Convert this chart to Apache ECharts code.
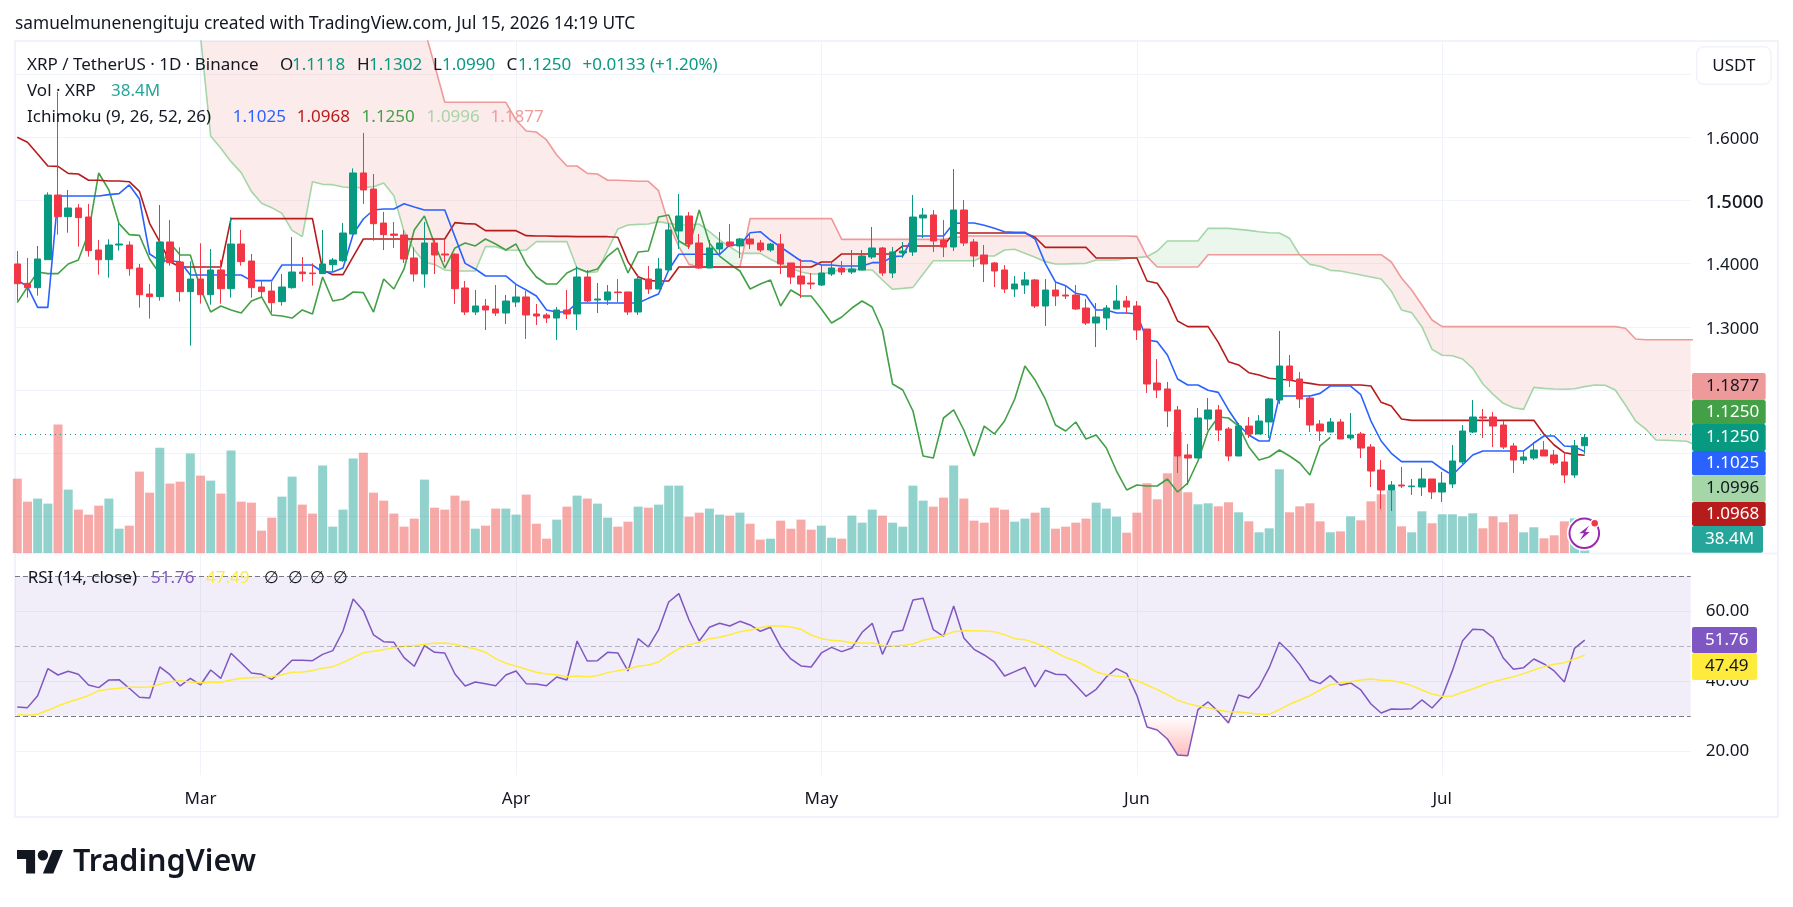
<!DOCTYPE html>
<html>
<head>
<meta charset="utf-8">
<title>XRP / TetherUS</title>
<script src="https://cdn.jsdelivr.net/npm/echarts@6/dist/echarts.min.js"></script>
<style>html,body{margin:0;padding:0;background:#fff}#chart{width:1793px;height:907px}</style>
</head>
<body>
<div id="chart"></div>
<script>
// The x axis counts days from 1 Mar 2026; the first daily bar is 11 Feb 2026 (day -18).
const firstDay = -18;

const open = [
1.3994,1.3688,1.3619,1.4062,1.5085,1.4743,1.488,1.4737,1.4215,1.4062,
1.4294,1.4294,1.393,1.3519,1.3477,1.4342,1.4025,1.3556,
1.3756,1.3508,1.3899,1.3603,1.431,1.4041,1.363,1.3566,1.3398,1.3619,
1.3867,1.3851,1.3841,1.3983,1.4046,1.4468,1.5434,1.518,1.4642,1.4468,
1.4453,1.4089,1.3835,1.4326,1.4152,1.415,1.3614,1.3234,1.3329,1.3282,
1.3218,1.3392,1.3472,1.3203,1.3187,1.3139,1.3266,1.3203,1.3788,1.3424,
1.3424,1.3551,1.3551,1.3234,1.3756,1.3598,1.3899,1.4516,1.4753,1.4326,
1.393,1.4231,1.4342,1.4279,1.4389,1.4326,1.4215,1.431,1.401,1.3804,
1.3693,1.3661,1.3835,1.393,1.3867,1.3899,1.4104,1.4247,1.3851,1.4168,
1.4184,1.4722,1.4769,1.4373,1.4263,1.4848,1.4342,1.4136,1.401,1.3899,
1.3598,1.3661,1.3741,1.3329,1.3582,1.3503,1.3503,1.3297,1.306,1.3139,
1.3282,1.3408,1.3329,1.2965,1.2111,1.2016,1.1684,1.0972,1.0924,1.1541,
1.1684,1.1383,1.0956,1.143,1.1304,1.1494,1.1842,1.238,1.2174,1.1873,
1.1462,1.1335,1.1494,1.1241,1.1304,1.1098,1.0734,1.0418,1.0497,1.047,
1.0465,1.0592,1.0386,1.0513,1.0861,1.1335,1.1573,1.1573,1.1446,1.1114,
1.0892,1.0924,1.1051,1.0972,1.0861,1.0655,1.1118];
const high = [
1.4199,1.4089,1.4279,1.5128,1.672,1.5165,1.4943,1.4943,1.4373,1.4384,
1.4637,1.4352,1.3994,1.3677,1.4927,1.469,1.4257,1.4036,
1.4321,1.4231,1.4057,1.4732,1.4532,1.4152,1.373,1.3714,1.3835,1.4421,
1.4104,1.4004,1.4532,1.4089,1.4642,1.5507,1.6067,1.5418,1.4817,1.4658,
1.4532,1.4257,1.4658,1.4373,1.4389,1.4162,1.3725,1.3582,1.344,1.3661,
1.3503,1.3661,1.3566,1.3361,1.3218,1.3313,1.3582,1.3957,1.3899,1.3693,
1.3661,1.3756,1.3551,1.3835,1.3962,1.4089,1.4637,1.5101,1.4817,1.4468,
1.4373,1.45,1.4627,1.4405,1.4484,1.4373,1.4326,1.4468,1.401,1.4073,
1.3851,1.3978,1.4025,1.4041,1.4215,1.4215,1.4579,1.4263,1.4263,1.4342,
1.5085,1.488,1.4848,1.469,1.5497,1.5006,1.4389,1.4294,1.4025,1.3978,
1.3804,1.3867,1.3756,1.3756,1.3709,1.3661,1.3661,1.344,1.3377,1.3345,
1.3661,1.3487,1.3408,1.2965,1.249,1.2127,1.1747,1.1146,1.1715,1.1873,
1.1763,1.1415,1.1478,1.1573,1.1604,1.1873,1.2934,1.2554,1.2285,1.1921,
1.1525,1.1557,1.1541,1.1636,1.1335,1.1146,1.0892,1.056,1.0782,1.0592,
1.0766,1.0592,1.0703,1.113,1.1446,1.1842,1.1699,1.1652,1.1509,1.1161,
1.1035,1.1177,1.1193,1.1051,1.1003,1.1209,1.1302];
const low = [
1.3413,1.3461,1.3493,1.4062,1.4458,1.4489,1.4268,1.411,1.3825,1.3777,
1.4205,1.3809,1.3303,1.3129,1.3413,1.3967,1.3398,1.2701,
1.3366,1.335,1.3366,1.3461,1.3967,1.3461,1.3461,1.3224,1.3334,1.3603,
1.3714,1.3651,1.3841,1.3872,1.4025,1.4468,1.4943,1.4363,1.4215,1.4247,
1.401,1.3714,1.3619,1.3835,1.4025,1.3361,1.3187,1.3187,1.2949,1.3171,
1.3044,1.3313,1.2807,1.3028,1.306,1.2791,1.3123,1.2949,1.3392,1.3218,
1.3345,1.3392,1.3187,1.3187,1.3519,1.3598,1.3899,1.4231,1.4231,1.3915,
1.393,1.4136,1.4263,1.4089,1.4231,1.4184,1.4184,1.3835,1.3677,1.3456,
1.3598,1.3645,1.3804,1.3819,1.3835,1.3899,1.4073,1.3804,1.3772,1.4089,
1.412,1.4405,1.4184,1.4104,1.4199,1.4279,1.3946,1.3709,1.363,1.3535,
1.3472,1.3519,1.3297,1.3013,1.3329,1.344,1.3266,1.3028,1.268,1.2949,
1.3282,1.3203,1.2791,1.1953,1.1873,1.1415,1.0687,1.0497,1.0924,1.1367,
1.1193,1.0877,1.0956,1.1241,1.1304,1.1241,1.1778,1.2047,1.1715,1.1335,
1.1193,1.1335,1.1225,1.1209,1.0924,1.0465,1.0117,1.0085,1.0449,1.0339,
1.0323,1.0275,1.0228,1.0449,1.0829,1.1319,1.1241,1.1098,1.1066,1.0687,
1.0829,1.0892,1.0956,1.0813,1.0528,1.0608,1.099];
const close = [
1.3682,1.3619,1.4073,1.5085,1.4743,1.488,1.4727,1.4205,1.4062,1.4294,
1.431,1.392,1.3508,1.3477,1.4342,1.4015,1.3556,1.3756,
1.3508,1.3899,1.3603,1.431,1.4031,1.3619,1.3556,1.3382,1.363,1.3867,
1.3841,1.3841,1.3994,1.4057,1.4484,1.5434,1.5165,1.4632,1.4458,1.4447,
1.4073,1.3835,1.4326,1.4136,1.4136,1.3603,1.3234,1.3329,1.3266,1.3218,
1.3408,1.3472,1.3187,1.3171,1.3139,1.3266,1.3203,1.3788,1.3408,1.344,
1.3551,1.354,1.3234,1.3756,1.3598,1.3915,1.4532,1.4753,1.431,1.393,
1.4247,1.4326,1.4279,1.4389,1.431,1.4215,1.431,1.3994,1.3788,1.3677,
1.3677,1.3851,1.393,1.3867,1.3915,1.412,1.4247,1.3851,1.4184,1.4199,
1.4737,1.4769,1.4358,1.4263,1.4848,1.4326,1.412,1.3994,1.3883,1.3598,
1.3677,1.3741,1.3329,1.3582,1.3487,1.3487,1.3282,1.306,1.3155,1.3297,
1.3408,1.3313,1.2949,1.2095,1.2,1.1668,1.0956,1.0924,1.1557,1.1684,
1.1367,1.0956,1.143,1.1304,1.1509,1.1858,1.238,1.2158,1.1858,1.1446,
1.1351,1.1494,1.1225,1.1288,1.1082,1.0718,1.0418,1.0497,1.0481,1.0481,
1.0592,1.0386,1.0528,1.0877,1.1351,1.1573,1.1557,1.143,1.1098,1.0892,
1.094,1.1051,1.0956,1.0845,1.0655,1.1117,1.125];

// Volume in millions of XRP
const volume = [
951,657,696,632,1643,811,555,491,606,696,
311,350,1041,772,1348,888,913,1272,
990,926,760,1310,657,644,286,452,721,977,
619,504,1118,337,555,1208,1284,772,670,504,
337,440,939,580,555,734,670,311,350,568,
568,491,747,375,183,427,593,734,696,632,
452,337,401,593,580,619,862,862,465,516,
568,491,478,516,375,171,183,414,311,427,
299,350,196,183,478,388,555,478,388,337,
862,670,593,708,1118,696,414,388,580,555,
401,440,516,580,311,337,388,440,644,568,
465,260,516,892,687,1020,1549,777,623,636,
597,649,521,405,265,316,1071,521,597,636,
405,265,277,469,418,661,751,802,341,265,
533,380,495,495,469,508,316,469,393,495,
265,329,188,226,405,444,38.4];

// Ichimoku lines
const tenkan = [
1.374,1.3635,1.3308,1.3308,1.507,1.507,1.507,1.507,1.507,1.5091,
1.5107,1.5244,1.5022,1.4152,1.4046,1.4041,1.403,1.382,
1.382,1.382,1.382,1.382,1.382,1.373,1.373,1.373,1.3978,1.3978,
1.3978,1.3978,1.3867,1.3867,1.393,1.4468,1.4706,1.4848,1.4864,1.4864,
1.4948,1.4896,1.4848,1.4848,1.4848,1.4426,1.4004,1.3915,1.3804,1.3804,
1.3804,1.3672,1.3582,1.3487,1.3266,1.3234,1.3234,1.3377,1.3377,1.3377,
1.3377,1.3377,1.3377,1.3377,1.345,1.3519,1.3899,1.4147,1.4147,1.4147,
1.4147,1.4147,1.4294,1.4294,1.4489,1.4505,1.4373,1.4263,1.4152,1.4041,
1.4041,1.3978,1.3978,1.3962,1.3962,1.3962,1.4015,1.4015,1.411,1.412,
1.4437,1.4437,1.4437,1.4437,1.4637,1.4642,1.4642,1.4606,1.4558,1.4505,
1.4495,1.4495,1.4389,1.4004,1.3709,1.3651,1.353,1.3498,1.3266,1.3266,
1.3218,1.3218,1.3203,1.2791,1.2765,1.2554,1.2174,1.2079,1.2079,1.1995,
1.1963,1.1684,1.1446,1.1288,1.1193,1.1193,1.1905,1.1905,1.1905,1.1905,
1.1947,1.2063,1.2063,1.2063,1.1926,1.1509,1.1193,1.0998,1.0866,1.0866,
1.0866,1.0866,1.075,1.0655,1.0813,1.0972,1.1035,1.1035,1.1035,1.1035,
1.1035,1.1161,1.1272,1.1272,1.1114,1.1103,1.1025];
const kijun = [
1.5998,1.5919,1.5734,1.5544,1.5539,1.5428,1.5418,1.5318,1.5318,1.5307,
1.5307,1.5296,1.5143,1.4637,1.4342,1.403,1.3946,1.3946,
1.3946,1.3946,1.3946,1.4711,1.4711,1.4711,1.4711,1.4711,1.4711,1.4711,
1.4711,1.4711,1.3899,1.3825,1.3825,1.411,1.4389,1.4389,1.4389,1.4389,
1.4389,1.4389,1.4389,1.4389,1.4389,1.4648,1.4632,1.4626,1.4521,1.4521,
1.4521,1.4521,1.4442,1.4437,1.4437,1.4431,1.4431,1.4426,1.4426,1.4426,
1.4426,1.4416,1.4031,1.3793,1.373,1.3725,1.3725,1.3946,1.3946,1.3946,
1.3946,1.3946,1.3946,1.3946,1.3946,1.3946,1.3946,1.3946,1.3946,1.3946,
1.3946,1.4025,1.4025,1.4152,1.4152,1.4152,1.4152,1.4152,1.4152,1.4279,
1.4279,1.4279,1.4279,1.4279,1.4484,1.4484,1.4484,1.4484,1.4484,1.4484,
1.4484,1.4484,1.4416,1.4257,1.4257,1.4257,1.4257,1.4257,1.4089,1.4089,
1.4089,1.4089,1.4089,1.3725,1.3688,1.345,1.3092,1.3002,1.3002,1.3002,
1.2754,1.2448,1.2396,1.2274,1.2237,1.2185,1.2169,1.2158,1.2127,1.2105,
1.2079,1.2079,1.2079,1.2079,1.2079,1.2063,1.1805,1.1747,1.1541,1.152,
1.152,1.152,1.152,1.152,1.152,1.152,1.152,1.152,1.152,1.152,
1.152,1.152,1.1299,1.113,1.1008,1.0982,1.0968];
// Lagging span: ends 25 bars before the last candle
const chikou = [
1.3382,1.363,1.3867,1.3841,1.3841,1.3994,1.4057,1.4484,1.5434,1.5165,
1.4632,1.4458,1.4447,1.4073,1.3835,1.4326,1.4136,1.4136,
1.3603,1.3234,1.3329,1.3266,1.3218,1.3408,1.3472,1.3187,1.3171,1.3139,
1.3266,1.3203,1.3788,1.3408,1.344,1.3551,1.354,1.3234,1.3756,1.3598,
1.3915,1.4532,1.4753,1.431,1.393,1.4247,1.4326,1.4279,1.4389,1.431,
1.4215,1.431,1.3994,1.3788,1.3677,1.3677,1.3851,1.393,1.3867,1.3915,
1.412,1.4247,1.3851,1.4184,1.4199,1.4737,1.4769,1.4358,1.4263,1.4848,
1.4326,1.412,1.3994,1.3883,1.3598,1.3677,1.3741,1.3329,1.3582,1.3487,
1.3487,1.3282,1.306,1.3155,1.3297,1.3408,1.3313,1.2949,1.2095,1.2,
1.1668,1.0956,1.0924,1.1557,1.1684,1.1367,1.0956,1.143,1.1304,1.1509,
1.1858,1.238,1.2158,1.1858,1.1446,1.1351,1.1494,1.1225,1.1288,1.1082,
1.0718,1.0418,1.0497,1.0481,1.0481,1.0592,1.0386,1.0528,1.0877,1.1351,
1.1573,1.1557,1.143,1.1098,1.0892,1.094,1.1051,1.0956,1.0845,1.0655,
1.1117,1.125];
// Leading spans: start on day 0 and run past the last candle
const spanA = [
1.76,1.6019,1.5824,1.5613,1.5439,1.5143,1.4954,1.4885,1.4795,1.4526,
1.4426,1.5296,1.5254,1.5249,1.5212,1.5201,1.5206,1.5217,1.5275,1.5075,
1.4505,1.4215,1.402,1.3988,1.3899,1.3883,1.3883,1.3883,1.4268,1.4268,
1.4215,1.421,1.4215,1.4347,1.4347,1.4347,1.4347,1.3925,1.3857,1.3872,
1.4215,1.4547,1.4611,1.4621,1.4626,1.4664,1.4637,1.4611,1.4611,1.4626,
1.4505,1.4373,1.4268,1.4162,1.4162,1.4162,1.4068,1.3994,1.393,1.3867,
1.3835,1.3835,1.3867,1.3909,1.3909,1.3899,1.3899,1.374,1.3593,1.3608,
1.3624,1.3835,1.4046,1.4046,1.4046,1.4046,1.4046,1.412,1.412,1.4215,
1.4226,1.4162,1.4099,1.4031,1.3994,1.3994,1.3999,1.4004,1.4057,1.4057,
1.4057,1.4083,1.4094,1.411,1.4199,1.4358,1.4358,1.4358,1.4358,1.4558,
1.4558,1.4558,1.4542,1.4526,1.4505,1.4489,1.4484,1.44,1.4136,1.3988,
1.3957,1.3893,1.3883,1.3851,1.382,1.3788,1.3756,1.3566,1.3266,1.3224,
1.3002,1.2643,1.2549,1.2543,1.249,1.2343,1.2095,1.1931,1.1789,1.172,
1.1694,1.2042,1.2026,1.2016,1.2011,1.2021,1.2053,1.2079,1.2074,1.2,
1.1763,1.1509,1.1383,1.1209,1.1204,1.1198,1.1188,1.1124];
const spanB = [
1.82,1.82,1.82,1.82,1.82,1.82,1.82,1.82,1.82,1.82,
1.82,1.82,1.82,1.82,1.82,1.82,1.82,1.82,1.82,1.82,
1.82,1.82,1.7712,1.7138,1.6552,1.6552,1.6552,1.6552,1.6552,1.6552,
1.6552,1.6272,1.6098,1.6082,1.5956,1.5718,1.5544,1.5544,1.5428,1.5418,
1.5318,1.5318,1.5312,1.5302,1.5302,1.5154,1.4626,1.4268,1.3988,1.3946,
1.3946,1.3946,1.3946,1.3946,1.4711,1.4711,1.4711,1.4711,1.4711,1.4711,
1.4711,1.4711,1.4711,1.4384,1.4384,1.4384,1.4384,1.4384,1.4384,1.4384,
1.4384,1.4384,1.4384,1.4384,1.4405,1.4437,1.4437,1.4437,1.4437,1.4437,
1.4437,1.4437,1.4437,1.4437,1.4437,1.4437,1.4437,1.4437,1.4437,1.4437,
1.4437,1.4437,1.4431,1.411,1.3946,1.3946,1.3946,1.3946,1.3946,1.4141,
1.4141,1.4141,1.4141,1.4141,1.4141,1.4141,1.4141,1.4141,1.4141,1.4141,
1.4141,1.4141,1.4141,1.4141,1.4141,1.4141,1.4141,1.4025,1.3772,1.3582,
1.3344,1.3108,1.3003,1.3003,1.3003,1.3003,1.3003,1.3003,1.3003,1.3003,
1.3003,1.3003,1.3003,1.3003,1.3003,1.3003,1.3003,1.3003,1.3003,1.3003,
1.2976,1.2807,1.2796,1.2796,1.2796,1.2796,1.2796,1.2796];

// RSI (14, close) and its moving average
const rsi = [
32.67,32.48,35.9,43.6,41.8,42.86,42,38.95,38.2,40.4,
40.48,38,35.43,35.24,44.1,41.9,38.67,40.86,
38.95,43.24,40.86,48,45.24,42.38,42,40.57,43.14,46,
46,45.9,47.7,48.76,54.38,63.52,60.19,53.24,51.33,51.14,
46.76,44.29,50.19,48.29,48.1,42.1,38.67,39.81,39.33,38.76,
41.81,42.95,39.33,39.24,38.76,41.24,40.38,51.52,45.81,45.9,
48.29,48.1,42.95,52.19,49.81,54.67,62.67,65.05,57.52,51.52,
55.43,56.57,55.81,57.14,56.1,54.29,55.43,49.9,46.38,44.38,
44.1,48.1,49.71,48.48,49.52,54,56.57,47.71,54.1,54.57,
63.24,63.71,54.76,52.86,61.52,52.38,49.14,47.52,45.52,41.52,
42.76,44,38.38,43.14,42,41.9,38.86,35.71,37.71,41.24,
43.62,42.19,36,26.95,26.1,23.52,18.95,18.76,31.9,34.1,
31.33,28.1,36.1,35.24,38.38,43.9,51.14,48.38,44.76,40.38,
39.33,41.62,38.86,39.52,37.52,33.52,30.95,32.1,32,32.19,
34.67,32.38,35.52,43.05,51.62,54.86,54.76,52.48,46.67,43.43,
43.9,46.38,44.95,42.95,39.81,49.43,51.76];
const rsiMa = [
30.48,30.29,30.57,31.71,32.95,34,34.95,35.9,37.33,37.71,
38,38.29,38.29,38.38,39.14,39.9,40.19,39.81,
39.62,39.71,39.71,40.38,40.86,41.05,41.14,41.33,41.9,42.57,
42.67,43.05,43.71,44.19,45.33,46.76,48.19,48.57,49.05,49.62,
50,50.19,50.57,50.86,50.95,50.57,49.9,49.24,48.29,46.48,
45.14,44.38,43.43,42.57,42.1,41.9,41.33,41.52,41.33,41.62,
42.48,43.05,43.52,44.29,44.67,45.52,47.52,49.33,50.48,51.14,
52.19,52.57,53.33,54.19,54.67,55.33,55.9,55.81,55.52,54.86,
53.24,52.19,51.71,51.52,50.95,50.95,50.95,50.29,50.1,50.29,
50.67,51.71,52.38,53.05,54.19,54.48,54.48,54.38,54.19,53.33,
52.19,51.9,50.95,49.9,48.29,46.86,45.81,44.38,42.67,41.9,
41.52,41.14,40.19,38.95,37.62,36.19,34.57,33.62,32.95,32.38,
31.81,31.33,31.24,30.95,30.57,30.57,31.9,33.43,34.67,35.9,
37.52,39.05,39.52,39.9,40.38,40.67,40.29,40.19,39.67,38.76,
37.52,36.38,35.71,35.81,36.86,37.81,38.95,39.9,40.57,41.33,
42.19,43.24,44.19,44.86,45.33,46.38,47.49];

// Axis ticks and scale limits
const monthDays = [0,31,61,92,122];
const monthNames = ['Mar','Apr','May','Jun','Jul'];
const priceGrid = [1.0,1.1,1.2,1.3,1.4,1.5,1.6,1.7];
const priceLabels = [1.3,1.4,1.5,1.6];
const rsiTicks = [20,40,60];
const lastPrice = 1.125;

// Last-value tags on the price scale
const priceTags = [
  ['1.1877','#EF9A9A','#131722'],['1.1250','#43A047','#fff'],['1.1250','#089981','#fff'],
  ['1.1025','#2962FF','#fff'],['1.0996','#A5D6A7','#131722'],['1.0968','#B71C1C','#fff'],
  ['38.4M','#26A69A','#fff']];
const rsiTags = [['51.76','#7E57C2','#fff'],['47.49','#FFEB3B','#131722']];

const UP = '#089981', DOWN = '#F23645';
const FONT = '"Noto Sans", sans-serif';
const TXT = 17;
const days = close.map((_, i) => firstDay + i);
const withDay = arr => arr.map((v, i) => [firstDay + i, v]);

// Split the area between two lines into polygons where the upper line stays the same
function regions(ta, va, vb) {
  const out = [];
  let cur = null;
  for (let i = 0; i < ta.length; i++) {
    const s = va[i] >= vb[i];
    if (!cur || cur.sign !== s) {
      if (cur) {
        const d0 = va[i-1]-vb[i-1], d1 = va[i]-vb[i], f = d0/(d0-d1);
        const tc = ta[i-1]+(ta[i]-ta[i-1])*f, vc = va[i-1]+(va[i]-va[i-1])*f;
        cur.pts.push([tc,vc,vc]);
        out.push(cur);
        cur = {sign:s, pts:[[tc,vc,vc]]};
      } else cur = {sign:s, pts:[]};
    }
    cur.pts.push([ta[i],va[i],vb[i]]);
  }
  out.push(cur);
  return out;
}
const spanDays = spanA.map((_, i) => i);
const cloud = regions(spanDays, spanA, spanB);
const oversold = regions(days, rsi, rsi.map(() => 30)).filter(r => !r.sign);

function polygonOf(r, api) {
  const top = r.pts.map(p => api.coord([p[0], p[1]]));
  const bot = r.pts.slice().reverse().map(p => api.coord([p[0], p[2]]));
  return top.concat(bot);
}

// Text, tags and logo drawn around the panes
const gfx = [];
const txt = (text, x, y, fill, size, extra) => gfx.push({type:'text', z:50, silent:true, style:Object.assign({
  text, x, y, fill, font:`${size||TXT}px ${FONT}`, verticalAlign:'middle', align:'left'}, extra||{})});
txt('samuelmunenengituju created with TradingView.com, Jul 15, 2026 14:19 UTC', 15, 24.5, '#131722', 17.3);
gfx.push({type:'rect', z:1, silent:true, shape:{x:15,y:41,width:1763,height:776}, style:{fill:'none',stroke:'#F0F3FA',lineWidth:2}});
gfx.push({type:'line', z:1, silent:true, shape:{x1:15,y1:553.5,x2:1778,y2:553.5}, style:{stroke:'#F0F3FA',lineWidth:2}});
const G = UP;
const ROW1 = 65.5, ROW2 = 91.5, ROW3 = 117.5, ROW_RSI = 577.7;
txt('XRP / TetherUS · 1D · Binance', 27, ROW1, '#131722');
[['O',280],['H',357],['L',433],['C',506.5]].forEach(a => txt(a[0], a[1], ROW1, '#131722'));
[['1.1118',292],['1.1302',369],['1.0990',442],['1.1250',518],['+0.0133 (+1.20%)',582.6]].forEach(a => txt(a[0], a[1], ROW1, G));
txt('Vol · XRP', 27, ROW2, '#131722');
txt('38.4M', 111, ROW2, '#26A69A');
txt('Ichimoku (9, 26, 52, 26)', 27, ROW3, '#131722');
[['1.1025',232.7,'#2962FF'],['1.0968',296.7,'#B71C1C'],['1.1250',361.6,'#43A047'],['1.0996',426.6,'#A5D6A7'],['1.1877',490.5,'#EF9A9A']]
  .forEach(a => txt(a[0], a[1], ROW3, a[2]));
txt('RSI (14, close)', 27.7, ROW_RSI, '#131722');
txt('51.76', 151, ROW_RSI, '#7E57C2');
txt('47.49', 206, ROW_RSI, '#FFEB3B');
[264,287.5,310,333].forEach(x => txt('∅', x, ROW_RSI, '#131722'));

gfx.push({type:'rect', z:40, silent:true, shape:{x:1696.7,y:46.7,width:74.3,height:37.6,r:7}, style:{fill:'#fff',stroke:'#F0F3FA',lineWidth:1.5}});
txt('USDT', 1733.8, 66.5, '#131722', TXT, {align:'center'});

const tagTops = [373,400,424,451,475.3,502,526];
const tagBots = [400,424,451,475.3,502,526,552.7];
priceTags.forEach((t, i) => {
  const w = i === 6 ? 71 : 73.7;
  gfx.push({type:'rect', z:45, silent:true, shape:{x:1692,y:tagTops[i],width:w,height:tagBots[i]-tagTops[i],r:2}, style:{fill:t[1]}});
  txt(t[0], i === 6 ? 1705 : 1706, (tagTops[i]+tagBots[i])/2, t[2], TXT);
});
const rsiTop = [627,653], rsiBot = [653,680];
rsiTags.forEach((t, i) => {
  gfx.push({type:'rect', z:45, silent:true, shape:{x:1692,y:rsiTop[i],width:65,height:rsiBot[i]-rsiTop[i],r:2}, style:{fill:t[1]}});
  txt(t[0], 1705, (rsiTop[i]+rsiBot[i])/2, t[2], TXT);
});

// Alert badge next to the last bar
gfx.push({type:'circle', z:30, silent:true, shape:{cx:1584.3,cy:533.3,r:15}, style:{fill:'#fff',stroke:'#fff',lineWidth:5}});
gfx.push({type:'circle', z:31, silent:true, shape:{cx:1584.3,cy:533.3,r:14.8}, style:{fill:'#fff',stroke:'#9C27B0',lineWidth:2}});
gfx.push({type:'polygon', z:32, silent:true, shape:{points:[[1589,525.7],[1579.3,533.3],[1584,533.3],[1580,540.3],[1589.7,532],[1585.3,532]]}, style:{fill:'#9C27B0'}});
gfx.push({type:'circle', z:33, silent:true, shape:{cx:1594.7,cy:523.3,r:4}, style:{fill:'#F23645',stroke:'#fff',lineWidth:1.5}});

// Wordmark below the chart
gfx.push({type:'polygon', z:5, silent:true, shape:{points:[[35.1,873.5],[26.1,873.5],[26.1,859.1],[17,859.1],[17,850],[35.1,850]]}, style:{fill:'#131722'}});
gfx.push({type:'polygon', z:5, silent:true, shape:{points:[[53.3,873.5],[42.9,873.5],[52.6,850],[63,850]]}, style:{fill:'#131722'}});
gfx.push({type:'circle', z:5, silent:true, shape:{cx:42.9,cy:855.2,r:5.2}, style:{fill:'#131722'}});
gfx.push({type:'text', z:5, silent:true, style:{text:'TradingView', x:73, y:862, fill:'#131722',
  font:`600 30.5px ${FONT}`, verticalAlign:'middle', align:'left'}});

const clipOf = params => ({type:'rect', shape:{x:params.coordSys.x,y:params.coordSys.y,width:params.coordSys.width,height:params.coordSys.height}});

const line = (name, data, color) => ({
  name, type:'line', data, xAxisIndex:0, yAxisIndex:0, showSymbol:false, symbol:'none', silent:true, z:4,
  lineStyle:{color, width:1.6}, itemStyle:{color}, animation:false});

const chart = echarts.init(document.getElementById('chart'), null, {renderer:'canvas'});
const xMin = (15 - 200.5) / 10.178;
const xMax = (1690.7 - 200.5) / 10.178;

const dayAxis = (gridIndex, withLabels) => ({
  type:'value', gridIndex, min:xMin, max:xMax,
  axisLine:{show:false},
  axisTick:{show:false, customValues:monthDays},
  axisLabel:{show:withLabels, customValues:monthDays, margin:15.5, color:'#131722', fontSize:TXT, fontFamily:FONT,
    formatter:v => monthNames[monthDays.indexOf(v)]},
  splitLine:{show:true, lineStyle:{color:'#F0F3FA', width:1}}
});

chart.setOption({
  animation:false,
  backgroundColor:'#fff',
  textStyle:{fontFamily:FONT},
  graphic:{elements:gfx},
  grid:[
    {left:15, right:102.3, top:41, height:512},
    {left:15, right:102.3, top:555, height:220}
  ],
  xAxis:[dayAxis(0,false), dayAxis(1,true)],
  yAxis:[
    {type:'value', gridIndex:0, position:'right', min:0.9421, max:1.7522, scale:true,
     axisLine:{show:false}, axisTick:{show:false, customValues:priceGrid},
     axisLabel:{customValues:priceLabels, margin:15, color:'#131722', fontSize:TXT, fontFamily:FONT, padding:[4,0,0,0],
       formatter:v => Math.abs(v-1.5)<1e-6 ? '{b|'+v.toFixed(4)+'}' : v.toFixed(4),
       rich:{b:{fontSize:18.5, color:'#131722', fontFamily:FONT, fontWeight:500}}},
     splitLine:{show:true, lineStyle:{color:'#F0F3FA', width:1}}},
    {type:'value', gridIndex:0, min:0, max:6550, show:false, splitLine:{show:false}},
    {type:'value', gridIndex:1, position:'right', min:13.23, max:76.09, scale:true,
     axisLine:{show:false}, axisTick:{show:false, customValues:rsiTicks},
     axisLabel:{customValues:rsiTicks, margin:15, color:'#131722', fontSize:TXT, fontFamily:FONT, padding:[4,0,0,0], formatter:v => v.toFixed(2)},
     splitLine:{show:true, lineStyle:{color:'#F0F3FA', width:1}}}
  ],
  series:[
    {name:'Kumo', type:'custom', xAxisIndex:0, yAxisIndex:0, z:1, silent:true, clip:true,
     data:cloud.map((_, i) => [0, i]), encode:{x:0, y:-1},
     renderItem:(params, api) => {
       const r = cloud[params.dataIndex];
       return {type:'polygon', clipPath:clipOf(params), shape:{points:polygonOf(r, api)},
         style:{fill:r.sign ? 'rgba(165,214,167,0.22)' : 'rgba(239,154,154,0.2)'}};
     }},
    {name:'Vol', type:'bar', xAxisIndex:0, yAxisIndex:1, z:2, barWidth:9, silent:true,
     data:volume.map((v, i) => ({value:[days[i], v],
       itemStyle:{color: close[i] >= open[i] ? 'rgba(38,166,154,0.5)' : 'rgba(239,83,80,0.5)'}}))},
    line('Leading Span A', spanA.map((v, i) => [spanDays[i], v]), '#A5D6A7'),
    line('Leading Span B', spanB.map((v, i) => [spanDays[i], v]), '#EF9A9A'),
    line('Lagging Span', withDay(chikou), '#43A047'),
    line('Base Line', withDay(kijun), '#B71C1C'),
    line('Conversion Line', withDay(tenkan), '#2962FF'),
    {name:'XRP', type:'candlestick', xAxisIndex:0, yAxisIndex:0, z:5, barWidth:7, silent:true,
     data:close.map((c, i) => [days[i], open[i], c, low[i], high[i]]),
     encode:{x:0, y:[1,2,3,4]},
     itemStyle:{color:UP, color0:DOWN, borderColor:UP, borderColor0:DOWN, borderWidth:1},
     markLine:{silent:true, symbol:'none', label:{show:false}, animation:false,
       lineStyle:{color:UP, type:[1,4], width:1},
       data:[{yAxis:lastPrice}]}},
    {name:'RSI', type:'line', xAxisIndex:1, yAxisIndex:2, z:4, data:withDay(rsi), symbol:'none', silent:true,
     lineStyle:{color:'#7E57C2', width:1.5},
     markArea:{silent:true, animation:false, itemStyle:{color:'rgba(126,87,194,0.1)'}, data:[[{yAxis:30},{yAxis:70}]]},
     markLine:{silent:true, symbol:'none', label:{show:false}, animation:false,
       data:[
         {yAxis:70, lineStyle:{color:'#787B86', type:[5,3], width:1}},
         {yAxis:50, lineStyle:{color:'rgba(120,123,134,0.5)', type:[5,3], width:1}},
         {yAxis:30, lineStyle:{color:'#787B86', type:[5,3], width:1}}]}},
    {name:'RSI MA', type:'line', xAxisIndex:1, yAxisIndex:2, z:4, data:withDay(rsiMa), symbol:'none', silent:true,
     lineStyle:{color:'#FFEB3B', width:1.5}},
    {name:'Oversold', type:'custom', xAxisIndex:1, yAxisIndex:2, z:3, silent:true,
     data:oversold.map((_, i) => [0, i]), encode:{x:0, y:-1},
     renderItem:(params, api) => ({type:'polygon', shape:{points:polygonOf(oversold[params.dataIndex], api)},
       style:{fill:new echarts.graphic.LinearGradient(0,0,0,1,[
         {offset:0,color:'rgba(255,82,82,0)'},{offset:1,color:'rgba(255,82,82,0.38)'}])}})}
  ]
});
</script>
</body>
</html>
